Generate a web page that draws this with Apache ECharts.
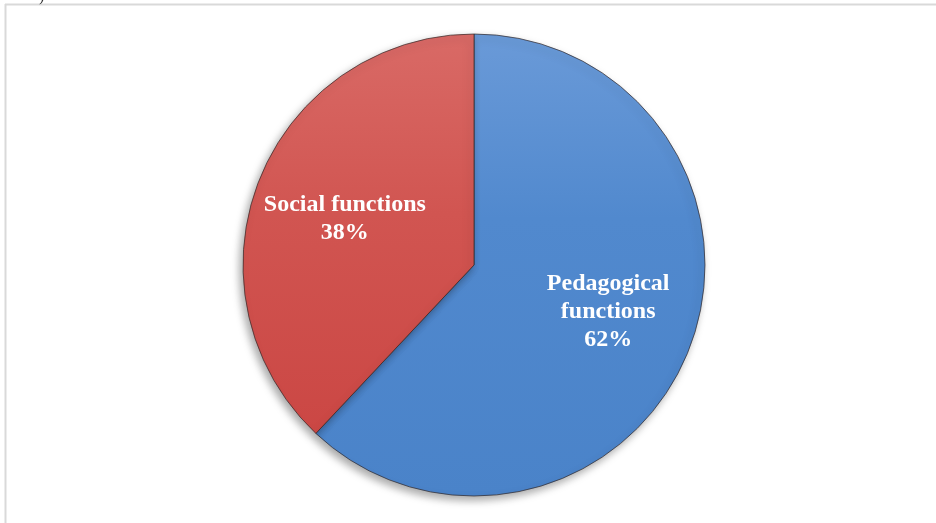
<!DOCTYPE html>
<html>
<head>
<meta charset="utf-8">
<script src="https://cdn.jsdelivr.net/npm/echarts@6/dist/echarts.min.js"></script>
<style>html,body{margin:0;padding:0;background:#fff}#c{width:936px;height:523px}</style>
</head>
<body>
<div id="c"></div>
<script>
var categories = ['Pedagogical\nfunctions', 'Social functions'];
var values = [62, 38];

var colors = [
  new echarts.graphic.LinearGradient(0, 0, 0, 1, [
    {offset: 0, color: '#6a9ad8'}, {offset: 0.4, color: '#5189ce'}, {offset: 1, color: '#4a83c9'}
  ]),
  new echarts.graphic.LinearGradient(0, 0, 0, 1, [
    {offset: 0, color: '#d96a66'}, {offset: 0.45, color: '#d15551'}, {offset: 1, color: '#cb4744'}
  ])
];
var offsets = [[24, 3], [-19, -3]];

var chart = echarts.init(document.getElementById('c'), null, {renderer: 'canvas'});
chart.setOption({
  animation: false,
  graphic: [
    {type: 'line', shape: {x1: 5, y1: 4.5, x2: 936, y2: 4.5}, style: {stroke: '#d9d9d9', lineWidth: 2}},
    {type: 'line', shape: {x1: 5.5, y1: 4, x2: 5.5, y2: 523}, style: {stroke: '#d9d9d9', lineWidth: 2}},
    {type: 'text', left: 39, top: -11, style: {text: ')', font: '16px "Liberation Serif"', fill: '#333'}}
  ],
  series: [{
    type: 'pie',
    center: [474, 265],
    radius: 231,
    startAngle: 90,
    clockwise: true,
    silent: true,
    labelLine: {show: false},
    itemStyle: {
      borderColor: 'rgba(50,40,40,0.7)',
      borderWidth: 1,
      shadowBlur: 8,
      shadowColor: 'rgba(0,0,0,0.35)',
      shadowOffsetX: -3,
      shadowOffsetY: 4
    },
    label: {
      show: true,
      position: 'inside',
      formatter: function (p) { return p.name + '\n' + p.value + '%'; },
      color: '#fff',
      fontFamily: '"Liberation Serif", "Times New Roman", serif',
      fontWeight: 'bold',
      fontSize: 24,
      lineHeight: 28,
      align: 'center'
    },
    data: categories.map(function (c, i) {
      return {name: c, value: values[i], itemStyle: {color: colors[i]}, label: {offset: offsets[i]}};
    })
  }]
});
</script>
</body>
</html>
